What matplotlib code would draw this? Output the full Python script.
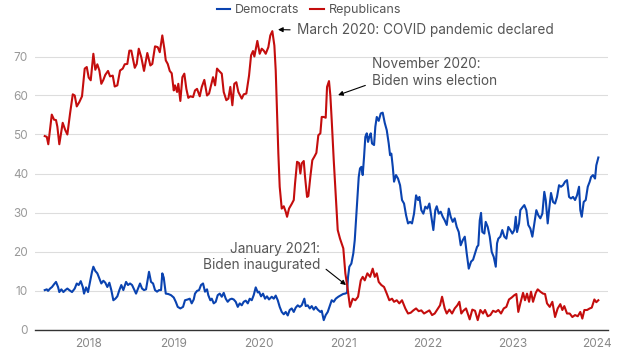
import matplotlib
matplotlib.use('Agg')
import matplotlib.pyplot as plt

# Weekly share of mentions (%); x is decimal year
dem_year = [
    2017.477, 2017.501, 2017.516, 2017.540, 2017.563, 2017.587, 2017.610, 2017.634, 2017.649, 2017.673,
    2017.697, 2017.720, 2017.744, 2017.767, 2017.799, 2017.831, 2017.855, 2017.878, 2017.902, 2017.926,
    2017.941, 2017.965, 2017.988, 2018.012, 2018.035, 2018.051, 2018.074, 2018.098, 2018.122, 2018.145,
    2018.169, 2018.192, 2018.216, 2018.240, 2018.263, 2018.287, 2018.311, 2018.334, 2018.358, 2018.381,
    2018.405, 2018.437, 2018.460, 2018.484, 2018.508, 2018.531, 2018.555, 2018.578, 2018.602, 2018.626,
    2018.649, 2018.673, 2018.697, 2018.708, 2018.732, 2018.756, 2018.779, 2018.803, 2018.826, 2018.850,
    2018.865, 2018.882, 2018.906, 2018.936, 2018.968, 2019.000, 2019.024, 2019.047, 2019.078, 2019.110,
    2019.133, 2019.165, 2019.189, 2019.212, 2019.236, 2019.251, 2019.275, 2019.299, 2019.322, 2019.346,
    2019.369, 2019.393, 2019.408, 2019.432, 2019.449, 2019.472, 2019.496, 2019.519, 2019.543, 2019.567,
    2019.590, 2019.614, 2019.637, 2019.661, 2019.685, 2019.708, 2019.732, 2019.756, 2019.779, 2019.803,
    2019.826, 2019.850, 2019.874, 2019.897, 2019.921, 2019.944, 2019.968, 2019.992, 2020.007, 2020.031,
    2020.054, 2020.078, 2020.101, 2020.125, 2020.157, 2020.181, 2020.204, 2020.228, 2020.251, 2020.275,
    2020.299, 2020.322, 2020.346, 2020.369, 2020.393, 2020.417, 2020.440, 2020.464, 2020.488, 2020.511,
    2020.542, 2020.558, 2020.582, 2020.606, 2020.629, 2020.653, 2020.676, 2020.700, 2020.731, 2020.747,
    2020.771, 2020.794, 2020.818, 2020.842, 2020.865, 2020.889, 2020.913, 2020.943, 2020.975, 2020.999,
    2021.022, 2021.046, 2021.058, 2021.073, 2021.097, 2021.120, 2021.137, 2021.152, 2021.168, 2021.184,
    2021.199, 2021.215, 2021.231, 2021.247, 2021.262, 2021.279, 2021.294, 2021.309, 2021.326, 2021.341,
    2021.365, 2021.380, 2021.397, 2021.420, 2021.444, 2021.467, 2021.491, 2021.515, 2021.538, 2021.554,
    2021.569, 2021.586, 2021.601, 2021.624, 2021.648, 2021.672, 2021.695, 2021.719, 2021.743, 2021.766,
    2021.790, 2021.813, 2021.837, 2021.861, 2021.884, 2021.900, 2021.923, 2021.947, 2021.970, 2021.994,
    2022.018, 2022.041, 2022.065, 2022.088, 2022.105, 2022.129, 2022.152, 2022.176, 2022.199, 2022.223,
    2022.247, 2022.270, 2022.294, 2022.317, 2022.341, 2022.365, 2022.388, 2022.412, 2022.436, 2022.459,
    2022.483, 2022.510, 2022.534, 2022.557, 2022.581, 2022.596, 2022.613, 2022.628, 2022.643, 2022.667,
    2022.683, 2022.707, 2022.731, 2022.754, 2022.778, 2022.802, 2022.817, 2022.832, 2022.856, 2022.879,
    2022.903, 2022.927, 2022.950, 2022.974, 2022.998, 2023.021, 2023.038, 2023.053, 2023.077, 2023.092,
    2023.116, 2023.139, 2023.163, 2023.186, 2023.210, 2023.234, 2023.257, 2023.281, 2023.304, 2023.328,
    2023.352, 2023.375, 2023.392, 2023.415, 2023.431, 2023.454, 2023.478, 2023.502, 2023.525, 2023.549,
    2023.572, 2023.596, 2023.620, 2023.643, 2023.667, 2023.690, 2023.714, 2023.738, 2023.761, 2023.785,
    2023.800, 2023.817, 2023.840, 2023.864, 2023.888, 2023.911, 2023.927, 2023.950, 2023.974, 2023.989,
    2024.013,
]
dem_share = [
    10.1, 10.3, 9.9, 10.5, 10.9, 11.6, 12.2, 10.9, 9.6, 10.3,
    9.6, 10.1, 10.5, 10.1, 9.6, 10.5, 11.8, 11.4, 12.4, 10.9,
    9.2, 10.8, 9.6, 12.2, 14.8, 16.1, 15.0, 14.4, 13.1, 11.8,
    12.5, 12.0, 10.9, 12.0, 10.1, 7.5, 7.9, 8.5, 10.1, 11.4,
    10.1, 12.2, 11.4, 11.8, 11.4, 10.3, 9.2, 10.5, 11.8, 10.5,
    10.1, 10.3, 13.5, 14.8, 12.2, 11.8, 10.1, 9.7, 10.1, 10.1,
    14.4, 13.3, 9.2, 9.1, 8.8, 8.2, 7.1, 5.8, 5.4, 5.8,
    7.5, 7.7, 7.9, 6.7, 7.7, 9.2, 9.9, 10.1, 11.4, 11.8,
    9.7, 10.3, 8.8, 7.5, 7.9, 6.7, 7.1, 8.8, 9.2, 8.4,
    9.4, 7.9, 7.1, 7.7, 7.9, 7.7, 7.1, 5.8, 6.7, 6.2,
    7.1, 7.4, 6.7, 7.9, 7.5, 8.8, 10.8, 9.5, 9.7, 8.5,
    9.2, 7.9, 8.5, 7.7, 8.4, 7.9, 8.7, 7.5, 5.8, 4.5,
    3.9, 4.5, 3.6, 5.0, 5.4, 4.5, 5.6, 6.2, 5.8, 6.2,
    7.9, 6.0, 6.2, 5.4, 6.0, 5.1, 5.8, 5.1, 4.5, 4.8,
    2.4, 3.7, 4.5, 6.0, 7.5, 7.1, 7.9, 8.4, 8.8, 9.1,
    9.2, 9.4, 13.5, 16.1, 16.9, 19.5, 22.9, 28.0, 33.2, 39.1,
    41.3, 41.7, 39.6, 44.3, 49.4, 50.3, 48.1, 49.4, 50.3, 47.7,
    47.3, 52.0, 54.5, 53.5, 55.4, 55.6, 53.0, 51.1, 47.7, 44.7,
    45.1, 41.7, 37.9, 39.6, 38.7, 37.0, 33.2, 32.3, 29.3, 27.2,
    27.6, 27.2, 29.7, 34.4, 33.2, 34.0, 30.6, 29.7, 31.5, 31.0,
    32.3, 28.9, 25.5, 30.6, 31.6, 29.7, 30.2, 28.9, 28.0, 26.8,
    31.0, 28.9, 27.6, 28.5, 26.3, 25.0, 21.6, 22.9, 23.8, 19.5,
    15.6, 17.4, 17.9, 19.5, 21.2, 21.6, 28.0, 29.9, 25.0, 24.6,
    27.6, 26.3, 23.8, 19.9, 18.6, 16.1, 22.1, 23.3, 23.8, 25.5,
    23.8, 23.3, 26.3, 25.5, 24.6, 25.5, 28.9, 25.0, 27.2, 30.6,
    31.3, 31.9, 30.6, 26.8, 25.9, 23.8, 27.2, 30.6, 29.3, 28.5,
    29.7, 35.3, 33.2, 27.2, 30.6, 35.0, 32.7, 32.3, 34.0, 37.0,
    36.6, 37.0, 37.9, 38.3, 34.0, 33.6, 34.0, 33.2, 34.4, 36.6,
    30.6, 28.9, 32.7, 33.2, 36.6, 37.9, 39.1, 39.6, 38.7, 42.1,
    44.1,
]

rep_year = [
    2017.477, 2017.501, 2017.519, 2017.560, 2017.587, 2017.610, 2017.626, 2017.649, 2017.689, 2017.720,
    2017.744, 2017.776, 2017.808, 2017.831, 2017.855, 2017.885, 2017.917, 2017.949, 2017.973, 2017.996,
    2018.020, 2018.051, 2018.074, 2018.098, 2018.122, 2018.145, 2018.169, 2018.192, 2018.224, 2018.248,
    2018.280, 2018.303, 2018.334, 2018.366, 2018.398, 2018.421, 2018.452, 2018.476, 2018.499, 2018.540,
    2018.563, 2018.587, 2018.617, 2018.649, 2018.688, 2018.724, 2018.747, 2018.779, 2018.811, 2018.835,
    2018.865, 2018.889, 2018.906, 2018.929, 2018.953, 2018.976, 2019.000, 2019.015, 2019.039, 2019.054,
    2019.078, 2019.102, 2019.125, 2019.149, 2019.172, 2019.196, 2019.228, 2019.251, 2019.275, 2019.307,
    2019.331, 2019.361, 2019.393, 2019.417, 2019.440, 2019.464, 2019.488, 2019.511, 2019.535, 2019.567,
    2019.590, 2019.621, 2019.645, 2019.668, 2019.692, 2019.715, 2019.739, 2019.763, 2019.803, 2019.826,
    2019.857, 2019.889, 2019.913, 2019.936, 2019.952, 2019.987, 2020.015, 2020.039, 2020.063, 2020.086,
    2020.117, 2020.140, 2020.164, 2020.188, 2020.204, 2020.220, 2020.235, 2020.251, 2020.275, 2020.299,
    2020.322, 2020.338, 2020.361, 2020.393, 2020.417, 2020.432, 2020.456, 2020.479, 2020.495, 2020.511,
    2020.535, 2020.550, 2020.574, 2020.589, 2020.613, 2020.636, 2020.660, 2020.684, 2020.707, 2020.731,
    2020.747, 2020.771, 2020.794, 2020.810, 2020.833, 2020.849, 2020.865, 2020.889, 2020.913, 2020.936,
    2020.963, 2021.002, 2021.026, 2021.050, 2021.081, 2021.113, 2021.144, 2021.176, 2021.208, 2021.231,
    2021.255, 2021.286, 2021.318, 2021.349, 2021.373, 2021.397, 2021.420, 2021.451, 2021.483, 2021.515,
    2021.545, 2021.577, 2021.601, 2021.633, 2021.663, 2021.695, 2021.734, 2021.766, 2021.798, 2021.829,
    2021.861, 2021.892, 2021.923, 2021.955, 2021.987, 2022.018, 2022.050, 2022.081, 2022.105, 2022.144,
    2022.168, 2022.199, 2022.223, 2022.254, 2022.286, 2022.317, 2022.348, 2022.372, 2022.395, 2022.419,
    2022.451, 2022.494, 2022.525, 2022.557, 2022.589, 2022.620, 2022.652, 2022.675, 2022.707, 2022.738,
    2022.770, 2022.802, 2022.832, 2022.864, 2022.896, 2022.927, 2022.958, 2022.990, 2023.021, 2023.045,
    2023.068, 2023.092, 2023.124, 2023.147, 2023.171, 2023.195, 2023.218, 2023.242, 2023.274, 2023.297,
    2023.328, 2023.360, 2023.384, 2023.407, 2023.439, 2023.470, 2023.502, 2023.533, 2023.564, 2023.588,
    2023.611, 2023.643, 2023.675, 2023.706, 2023.738, 2023.770, 2023.800, 2023.824, 2023.848, 2023.880,
    2023.911, 2023.935, 2023.966, 2023.989, 2024.013,
]
rep_share = [
    49.6, 49.4, 47.5, 55.1, 53.8, 53.7, 52.0, 47.5, 53.0, 51.1,
    50.0, 55.4, 60.3, 60.0, 57.2, 58.3, 59.8, 66.9, 67.3, 64.6,
    63.9, 70.7, 66.6, 68.0, 66.4, 63.0, 64.0, 65.3, 66.3, 64.9,
    65.1, 62.3, 62.6, 66.4, 66.9, 68.0, 68.1, 71.5, 71.5, 67.1,
    68.1, 72.0, 69.8, 66.3, 70.9, 67.7, 68.1, 72.6, 72.4, 71.1,
    75.4, 72.0, 69.0, 68.1, 66.3, 65.7, 61.3, 62.6, 60.9, 63.0,
    58.6, 64.7, 65.6, 61.7, 59.4, 59.8, 59.6, 61.3, 61.7, 59.8,
    62.2, 64.0, 60.0, 60.5, 62.6, 64.7, 62.6, 66.9, 66.3, 65.6,
    60.9, 58.8, 59.2, 62.2, 57.5, 63.0, 63.4, 60.9, 59.2, 60.3,
    60.5, 65.1, 70.3, 71.4, 70.0, 74.0, 70.7, 72.0, 71.5, 70.7,
    72.4, 75.4, 76.5, 72.8, 66.4, 55.4, 45.1, 36.6, 31.0, 31.6,
    30.2, 28.9, 31.0, 32.2, 33.2, 37.4, 43.0, 42.7, 40.0, 42.6,
    43.2, 39.2, 34.0, 34.2, 39.2, 43.4, 44.3, 45.3, 49.8, 50.3,
    54.5, 54.5, 54.3, 62.2, 63.7, 60.0, 53.7, 43.4, 34.0, 25.5,
    23.3, 20.8, 14.4, 10.9, 5.8, 7.9, 7.5, 8.4, 12.6, 13.5,
    12.6, 14.4, 13.5, 15.6, 13.5, 14.4, 12.2, 11.4, 10.9, 9.2,
    7.5, 7.9, 7.1, 7.5, 6.7, 7.5, 5.4, 4.1, 4.3, 4.9,
    5.4, 4.7, 4.9, 4.1, 4.5, 4.9, 3.7, 4.1, 4.9, 6.2,
    8.4, 5.4, 4.1, 5.1, 4.1, 5.4, 6.2, 7.1, 4.1, 4.8,
    5.4, 2.6, 5.1, 4.8, 2.4, 5.0, 4.1, 5.0, 3.4, 3.7,
    4.8, 4.5, 5.0, 4.1, 5.4, 5.8, 7.7, 8.2, 8.8, 9.1,
    4.5, 6.7, 9.4, 7.5, 9.2, 7.1, 9.7, 7.1, 9.4, 10.3,
    9.7, 9.2, 9.1, 6.7, 5.8, 7.1, 3.2, 5.4, 6.5, 5.0,
    6.0, 4.1, 4.1, 3.2, 3.7, 3.4, 4.5, 2.8, 5.0, 5.0,
    5.4, 5.6, 7.7, 7.0, 7.5,
]

year_ticks = [2018, 2019, 2020, 2021, 2022, 2023, 2024]
share_ticks = [0, 10, 20, 30, 40, 50, 60, 70]

blue = '#0a43b0'
red = '#c40d0d'
font = ['Inter', 'DejaVu Sans']
plt.rcParams['font.family'] = font

fig = plt.figure(figsize=(6.2, 3.58), dpi=100)
ax = fig.add_axes([35 / 620, 28.5 / 358, 573 / 620, 312 / 358])

dem_line, = ax.plot(dem_year, dem_share, color=blue, lw=1.5, label='Democrats', zorder=3)
rep_line, = ax.plot(rep_year, rep_share, color=red, lw=1.5, label='Republicans', zorder=3)

ax.set_xlim(2017.362, 2024.127)
ax.set_ylim(0, 80)
ax.set_xticks(year_ticks)
ax.set_xticklabels([str(y) for y in year_ticks])
ax.set_yticks(share_ticks)
for s in ['top', 'right', 'left']:
    ax.spines[s].set_visible(False)
ax.spines['bottom'].set_color('#333333')
ax.spines['bottom'].set_linewidth(1.0)
ax.grid(axis='y', color='#dddddd', lw=0.8, zorder=0)
ax.tick_params(axis='both', length=0, labelsize=8.5, colors='#999999')
ax.tick_params(axis='x', pad=6, labelcolor='#888888')
ax.tick_params(axis='y', pad=5)

fig.legend(handles=[dem_line, rep_line], loc='center', bbox_to_anchor=(0.498, 0.972),
           ncol=2, frameon=False, fontsize=9, handlelength=1.1, handletextpad=0.35,
           columnspacing=0.9, labelcolor='#555555')

arrow = dict(arrowstyle='-|>', color='black', lw=0.8, mutation_scale=7, shrinkA=3, shrinkB=0)
txt = dict(fontsize=9.8, color='#555555', linespacing=1.2)

ax.annotate('March 2020: COVID pandemic declared', xy=(2020.231, 76.9), xytext=(2020.456, 76.8),
            ha='left', va='center', arrowprops=dict(arrow, relpos=(0, 0.5)), **txt)
ax.annotate('November 2020:\nBiden wins election', xy=(2020.940, 60.1), xytext=(2021.341, 65.9),
            ha='left', va='center', multialignment='left',
            arrowprops=dict(arrow, relpos=(0, 0.15)), **txt)
ax.annotate('January 2021:\nBiden inaugurated', xy=(2021.034, 11.4), xytext=(2020.727, 18.6),
            ha='right', va='center', multialignment='right',
            arrowprops=dict(arrow, relpos=(1, 0.25)), **txt)

fig.savefig('out.png', dpi=100)
